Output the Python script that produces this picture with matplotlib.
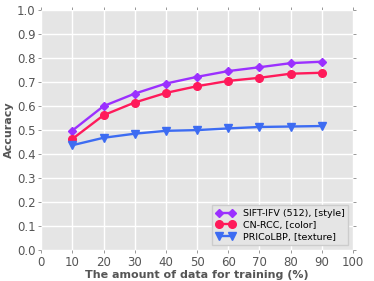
import matplotlib
matplotlib.use('Agg')
import matplotlib.pyplot as plt

# training data percentages
train_pct = [10, 20, 30, 40, 50, 60, 70, 80, 90]

# accuracy per feature
sift_ifv = [0.498, 0.600, 0.652, 0.694, 0.722, 0.746, 0.762, 0.779, 0.785]
cn_rcc = [0.463, 0.562, 0.615, 0.655, 0.683, 0.705, 0.718, 0.735, 0.739]
pricolbp = [0.437, 0.468, 0.485, 0.497, 0.500, 0.507, 0.513, 0.515, 0.517]

labels = ['SIFT-IFV (512), [style]', 'CN-RCC, [color]', 'PRICoLBP, [texture]']

fig = plt.figure(figsize=(3.74, 2.81), dpi=100)
ax = fig.add_axes([0.11, 0.11, 0.834, 0.854])
ax.set_facecolor('#e5e5e5')
for s in ax.spines.values():
    s.set_visible(False)
ax.grid(True, color='white', linewidth=1)
ax.set_axisbelow(True)

ax.plot(train_pct, sift_ifv, color='#9b30ff', marker='D', markersize=4.5,
        linewidth=1.7, label=labels[0])
ax.plot(train_pct, cn_rcc, color='#ff1a5a', marker='o', markersize=5.5,
        linewidth=1.7, label=labels[1])
ax.plot(train_pct, pricolbp, color='#3d6cf2', marker='v', markersize=5.5,
        linewidth=1.7, label=labels[2])

ax.set_xlim(0, 100)
ax.set_ylim(0, 1.0)
ax.set_xticks(range(0, 101, 10))
ax.set_yticks([i / 10 for i in range(11)])
ax.tick_params(axis='both', which='both', labelsize=8.5, labelcolor='#555555',
               color='#888888', length=2, width=0.6, direction='out',
               top=True, right=True, pad=2)

ax.set_xlabel('The amount of data for training (%)', fontsize=8,
              fontweight='bold', color='#555555', labelpad=1)
ax.set_ylabel('Accuracy', fontsize=8, fontweight='bold', color='#555555',
              labelpad=2)

leg = ax.legend(loc='lower right', fontsize=6.8, numpoints=2, frameon=True,
                fancybox=False, borderaxespad=0.5, handlelength=2.0,
                labelspacing=0.3)
leg.get_frame().set_facecolor('#e5e5e5')
leg.get_frame().set_edgecolor('#cccccc')
leg.get_frame().set_alpha(1)

plt.savefig('out.png', dpi=100)
